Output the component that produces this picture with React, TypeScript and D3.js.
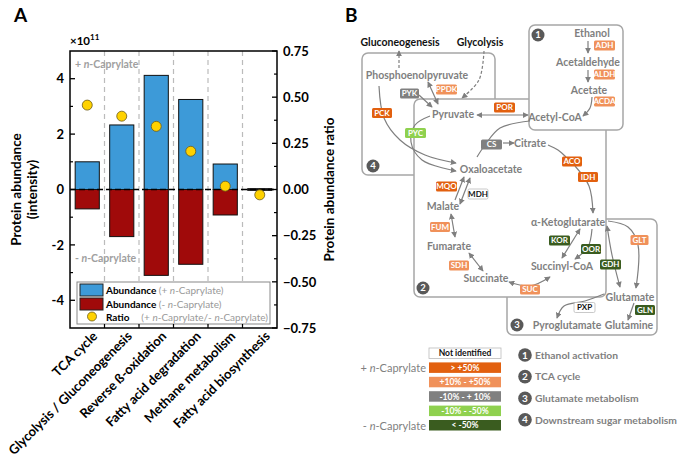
import React from 'react';
import * as d3 from 'd3';

// ---- panel A data ----
const categories = [
  'TCA cycle',
  'Glycolysis / Gluconeogenesis',
  'Reverse ß-oxidation',
  'Fatty acid degradation',
  'Methane metabolism',
  'Fatty acid biosynthesis',
];
const abundancePlus = [1.0, 2.33, 4.12, 3.25, 0.92, 0.03];
const abundanceMinus = [-0.7, -1.7, -3.1, -2.7, -0.92, -0.03];
const ratio = [0.457, 0.397, 0.342, 0.207, 0.018, -0.029];
const leftTicks = [-4, -2, 0, 2, 4];
const leftMinor = [-3, -1, 1, 3];
const rightTicks = [-0.75, -0.5, -0.25, 0, 0.25, 0.5, 0.75];
const rightMinor = [-0.625, -0.375, -0.125, 0.125, 0.375, 0.625];

// ---- panel B data ----
const metabolites: [string, number, number][] = [
  ['Ethanol', 592, 33],
  ['Acetaldehyde', 588, 62],
  ['Acetate', 589, 90],
  ['Acetyl-CoA', 555, 117],
  ['Phosphoenolpyruvate', 417, 75],
  ['Pyruvate', 453, 114],
  ['Oxaloacetate', 491, 169],
  ['Citrate', 530, 143],
  ['α-Ketoglutarate', 568, 222],
  ['Succinyl-CoA', 562, 266],
  ['Succinate', 486, 278],
  ['Fumarate', 449, 246],
  ['Malate', 443, 206],
  ['Glutamate', 630, 297],
  ['Glutamine', 629, 325],
  ['Pyroglutamate', 567, 325],
];
const enzymes: [string, number, number, number, string][] = [
  ['ADH', 604.5, 45.5, 21, 'light'],
  ['ALDH', 604.5, 74.5, 21, 'light'],
  ['ACDA', 604.5, 101.5, 21, 'light'],
  ['PYK', 409.5, 93.5, 19, 'grey'],
  ['PPDK', 446.5, 89.5, 21, 'light'],
  ['POR', 504.5, 107.5, 21, 'dark'],
  ['PCK', 382, 113, 20, 'dark'],
  ['PYC', 415.5, 133, 21, 'lgreen'],
  ['CS', 491.5, 144.5, 21, 'grey'],
  ['ACO', 572, 161.5, 20, 'dark'],
  ['IDH', 588, 177, 20, 'dark'],
  ['MQO', 446.5, 186.5, 21, 'dark'],
  ['MDH', 478, 194, 20, 'none'],
  ['FUM', 440, 227, 20, 'light'],
  ['SDH', 459, 265.5, 20, 'light'],
  ['SUC', 530, 289.5, 20, 'light'],
  ['KOR', 559.5, 240.5, 21, 'dgreen'],
  ['OOR', 591, 249, 20, 'dgreen'],
  ['GDH', 610.5, 264.5, 21, 'dgreen'],
  ['GLT', 639.5, 240, 18, 'light'],
  ['GLN', 645, 310, 20, 'dgreen'],
  ['PXP', 584.5, 307.5, 21, 'none'],
];
// points, arrow at start, arrow at end, dashed
const arrows: [[number, number][], boolean, boolean, boolean][] = [
  [[[399, 68], [399, 51]], false, true, true],
  [[[484, 51], [479, 80], [462, 98]], false, true, true],
  [[[428, 82], [438, 104]], true, true, false],
  [[[419, 95], [432, 107]], false, true, false],
  [[[477, 115], [528, 115]], true, true, false],
  [[[588, 41], [588, 53]], false, true, false],
  [[[588, 70], [588, 82]], false, true, false],
  [[[592, 97], [590, 108], [583, 116]], false, true, false],
  [[[530, 121], [500, 128], [485, 145], [477, 157]], false, false, false],
  [[[503, 143], [514, 143]], false, true, false],
  [[[548, 145], [558, 150], [566, 157]], false, false, false],
  [[[575, 166], [589, 186], [593, 213]], false, true, false],
  [[[580, 229], [562, 258]], true, true, false],
  [[[592, 229], [588, 247], [575, 259]], false, true, false],
  [[[550, 277], [530, 286], [509, 282]], true, true, false],
  [[[469, 253], [483, 271]], true, true, false],
  [[[451, 214], [455, 237]], true, true, false],
  [[[455, 200], [464, 177]], false, true, false],
  [[[460, 204], [470, 178]], true, true, false],
  [[[379, 86], [384, 118], [400, 140], [425, 155], [456, 163]], false, true, false],
  [[[430, 116], [415, 125], [411, 142], [422, 160], [456, 171]], false, true, false],
  [[[608, 221], [628, 227], [638, 245], [636, 288]], false, true, false],
  [[[607, 226], [612, 255], [620, 287]], true, true, false],
  [[[634, 303], [628, 320]], false, true, false],
  [[[604, 294], [585, 301], [564, 306], [557, 318]], false, true, false],
];
// x, y, w, h
const boxes: [number, number, number, number][] = [
  [362, 53, 133, 122],
  [507, 219, 150, 116],
  [414, 99, 192, 198],
  [529, 25, 94, 105],
];
const boxNumbers: [string, number, number][] = [
  ['1', 538, 35],
  ['2', 423, 288],
  ['3', 517, 325],
  ['4', 373, 166],
];
const colorLegend: [string, string][] = [
  ['Not identified', 'none'],
  ['> +50%', 'dark'],
  ['+10% - +50%', 'light'],
  ['-10% - + 10%', 'grey'],
  ['-10% - -50%', 'lgreen'],
  ['< -50%', 'dgreen'],
];
const moduleLegend = ['Ethanol activation', 'TCA cycle', 'Glutamate metabolism', 'Downstream sugar metabolism'];

const fills: Record<string, string> = {
  dark: '#E2600F',
  light: '#F0915A',
  grey: '#808080',
  lgreen: '#8FD14F',
  dgreen: '#3A5C1F',
  none: '#FFFFFF',
};

const FONT = 'Lato, "Open Sans", sans-serif';
const GREY_TXT = '#7F7F7F';
const BLUE = '#3D9AD8';
const RED = '#A00A0A';

const Caprylate = ({ sign }: { sign: string }) => (
  <>
    {sign} <tspan fontStyle="italic">n</tspan>-Caprylate
  </>
);

const App: React.FC = () => {
  const plot = { left: 70, right: 277, top: 51, bottom: 328 };
  const x = d3.scaleBand<string>().domain(categories).range([plot.left, plot.right]).paddingInner(0.3).paddingOuter(0.15);
  const y = d3.scaleLinear().domain([-5, 5]).range([plot.bottom, plot.top]);
  const yr = d3.scaleLinear().domain([-0.75, 0.75]).range([plot.bottom, plot.top]);
  const step = x.step();
  const separators = categories.slice(1).map((c) => (x(c) as number) - (step * 0.3) / 2);
  const curve = d3.line().curve(d3.curveCatmullRom.alpha(0.5));

  return (
    <svg width={679} height={471} style={{ position: 'absolute', left: 0, top: 0, background: '#fff' }} fontFamily={FONT}>
      <defs>
        <marker id="arr" viewBox="0 0 8 8" refX={7} refY={4} markerWidth={6} markerHeight={6} orient="auto-start-reverse" markerUnits="userSpaceOnUse">
          <path d="M0,0 L8,4 L0,8 z" fill={GREY_TXT} />
        </marker>
      </defs>

      {/* ================= Panel A ================= */}
      <text x={14} y={22} fontSize={19} fontWeight="bold">A</text>

      {separators.map((s, i) => (
        <line key={'sep' + i} x1={s} x2={s} y1={plot.top} y2={plot.bottom} stroke="#BBBBBB" strokeWidth={1.2} strokeDasharray="5,4" />
      ))}

      {categories.map((c, i) => (
        <g key={'bar' + i}>
          <rect x={x(c)} width={x.bandwidth()} y={y(abundancePlus[i])} height={y(0) - y(abundancePlus[i])} fill={i === 5 ? '#111' : BLUE} stroke="#111" strokeWidth={1} />
          <rect x={x(c)} width={x.bandwidth()} y={y(0)} height={y(abundanceMinus[i]) - y(0)} fill={i === 5 ? '#111' : RED} stroke="#111" strokeWidth={1} />
        </g>
      ))}
      <line x1={plot.left} x2={plot.right} y1={y(0)} y2={y(0)} stroke="#000" strokeWidth={1.3} strokeDasharray="6,3" />

      {categories.map((c, i) => (
        <circle key={'dot' + i} cx={(x(c) as number) + x.bandwidth() / 2} cy={yr(ratio[i])} r={5} fill="#FFD200" stroke="#6b5a1a" strokeWidth={0.8} />
      ))}

      <text x={75} y={68} fontSize={10.5} fontWeight="bold" fill="#A0A0A0"><Caprylate sign="+" /></text>
      <text x={75} y={262} fontSize={10.5} fontWeight="bold" fill="#A0A0A0"><Caprylate sign="-" /></text>

      {/* legend */}
      <rect x={77} y={282} width={193} height={42} fill="#fff" stroke="#888" strokeWidth={1} />
      <rect x={80} y={284} width={23} height={12} fill={BLUE} stroke="#222" strokeWidth={1} />
      <rect x={80} y={298} width={23} height={12} fill={RED} stroke="#222" strokeWidth={1} />
      <circle cx={92} cy={316.5} r={4.5} fill="#FFD200" stroke="#6b5a1a" strokeWidth={0.8} />
      <text x={106} y={294} fontSize={10} fontWeight="bold">Abundance <tspan fill="#999" fontWeight="normal">(<Caprylate sign="+" />)</tspan></text>
      <text x={106} y={307.5} fontSize={10} fontWeight="bold">Abundance <tspan fill="#999" fontWeight="normal">(<Caprylate sign="-" />)</tspan></text>
      <text x={106} y={320.5} fontSize={10} fontWeight="bold">Ratio</text>
      <text x={268} y={320.5} fontSize={10} textAnchor="end" fill="#999">(+ <tspan fontStyle="italic">n</tspan>-Caprylate/- <tspan fontStyle="italic">n</tspan>-Caprylate)</text>

      {/* frame */}
      <rect x={plot.left} y={plot.top} width={plot.right - plot.left} height={plot.bottom - plot.top} fill="none" stroke="#000" strokeWidth={1.5} />

      {/* left axis */}
      {leftTicks.map((t) => (
        <g key={'lt' + t}>
          <line x1={plot.left} x2={plot.left + 5} y1={y(t)} y2={y(t)} stroke="#000" strokeWidth={1.3} />
          <text x={64} y={y(t)} dy="0.36em" textAnchor="end" fontSize={13} fontWeight="bold">{t < 0 ? '-' + Math.abs(t) : t}</text>
        </g>
      ))}
      {leftMinor.map((t) => (
        <line key={'lm' + t} x1={plot.left} x2={plot.left + 3} y1={y(t)} y2={y(t)} stroke="#000" strokeWidth={1.2} />
      ))}
      <text x={70} y={45} fontSize={11.5} fontWeight="bold">×10<tspan fontSize={8} dy={-5}>11</tspan></text>

      {/* right axis */}
      {rightTicks.map((t) => (
        <g key={'rt' + t}>
          <line x1={plot.right - 5} x2={plot.right} y1={yr(t)} y2={yr(t)} stroke="#000" strokeWidth={1.3} />
          <text x={283} y={yr(t)} dy="0.36em" fontSize={13} fontWeight="bold">{t < 0 ? '\u2212' + Math.abs(t).toFixed(2) : t.toFixed(2)}</text>
        </g>
      ))}
      {rightMinor.map((t) => (
        <line key={'rm' + t} x1={plot.right - 3} x2={plot.right} y1={yr(t)} y2={yr(t)} stroke="#000" strokeWidth={1.2} />
      ))}

      {/* bottom ticks */}
      {separators.map((s, i) => (
        <line key={'bt' + i} x1={s} x2={s} y1={plot.bottom} y2={plot.bottom - 4} stroke="#000" strokeWidth={1.2} />
      ))}

      {/* axis titles */}
      <text transform={`translate(21,${(plot.top + plot.bottom) / 2}) rotate(-90)`} textAnchor="middle" fontSize={13.5} fontWeight="bold">Protein abundance</text>
      <text transform={`translate(37,${(plot.top + plot.bottom) / 2}) rotate(-90)`} textAnchor="middle" fontSize={13.5} fontWeight="bold">(intensity)</text>
      <text transform={`translate(334,${(plot.top + plot.bottom) / 2}) rotate(-90)`} textAnchor="middle" fontSize={13.5} fontWeight="bold">Protein abundance ratio</text>

      {/* category labels */}
      {categories.map((c) => {
        const cx = (x(c) as number) + x.bandwidth() / 2 + 11;
        return (
          <text key={'xl' + c} transform={`translate(${cx},${plot.bottom + 9}) rotate(-45)`} textAnchor="end" fontSize={13} fontWeight="bold">{c}</text>
        );
      })}

      {/* ================= Panel B ================= */}
      <text x={345} y={22} fontSize={19} fontWeight="bold">B</text>

      {boxes.map(([bx, by, bw, bh], i) => (
        <rect key={'box' + i} x={bx} y={by} width={bw} height={bh} rx={6} fill="#fff" stroke="#A6A6A6" strokeWidth={1.5} />
      ))}

      {boxNumbers.map(([n, cx, cy]) => (
        <g key={'bn' + n}>
          <circle cx={cx} cy={cy} r={6.5} fill="#595959" />
          <text x={cx} y={cy} dy="0.35em" textAnchor="middle" fontSize={9.5} fontWeight="bold" fill="#fff">{n}</text>
        </g>
      ))}

      <text x={400} y={46} textAnchor="middle" fontSize={10.5} fontWeight="bold" fill="#111">Gluconeogenesis</text>
      <text x={480} y={46} textAnchor="middle" fontSize={10.5} fontWeight="bold" fill="#111">Glycolysis</text>

      {arrows.map(([pts, start, end, dashed], i) => (
        <path
          key={'ar' + i}
          d={curve(pts) as string}
          fill="none"
          stroke={GREY_TXT}
          strokeWidth={1.2}
          strokeDasharray={dashed ? '3,2' : undefined}
          markerStart={start ? 'url(#arr)' : undefined}
          markerEnd={end ? 'url(#arr)' : undefined}
        />
      ))}

      {metabolites.map(([name, mx, my]) => (
        <text key={'m' + name} x={mx} y={my} dy="0.35em" textAnchor="middle" fontSize={10.5} fontWeight="bold" fill={GREY_TXT}>{name}</text>
      ))}

      {enzymes.map(([name, ex, ey, w, k]) => (
        <g key={'e' + name}>
          <rect x={ex - w / 2} y={ey - 5} width={w} height={10} rx={1.5} fill={fills[k]} stroke={k === 'none' ? '#BBB' : 'none'} strokeWidth={0.8} />
          <text x={ex} y={ey} dy="0.36em" textAnchor="middle" fontSize={8} fontWeight="bold" fill={k === 'none' ? '#111' : '#fff'}>{name}</text>
        </g>
      ))}

      {/* colour legend */}
      {colorLegend.map(([label, k], i) => {
        const ly = 348 + i * 14.4;
        return (
          <g key={'cl' + i}>
            <rect x={429} y={ly} width={72} height={10.5} fill={fills[k]} stroke={k === 'none' ? '#BBB' : 'none'} strokeWidth={0.8} />
            <text x={465} y={ly + 5.25} dy="0.36em" textAnchor="middle" fontSize={8.5} fontWeight="bold" fill={k === 'none' ? '#111' : '#fff'}>{label}</text>
          </g>
        );
      })}
      <text x={426} y={368} dy="0.35em" textAnchor="end" fontSize={11} fill={GREY_TXT}><Caprylate sign="+" /></text>
      <text x={426} y={426} dy="0.35em" textAnchor="end" fontSize={11} fill={GREY_TXT}><Caprylate sign="-" /></text>

      {moduleLegend.map((label, i) => {
        const ly = 355 + i * 21.6;
        return (
          <g key={'ml' + i}>
            <circle cx={525} cy={ly} r={6.8} fill="#595959" />
            <text x={525} y={ly} dy="0.35em" textAnchor="middle" fontSize={10} fontWeight="bold" fill="#fff">{i + 1}</text>
            <text x={535} y={ly} dy="0.36em" fontSize={10.3} fontWeight="bold" fill={GREY_TXT}>{label}</text>
          </g>
        );
      })}
    </svg>
  );
};

export default App;
